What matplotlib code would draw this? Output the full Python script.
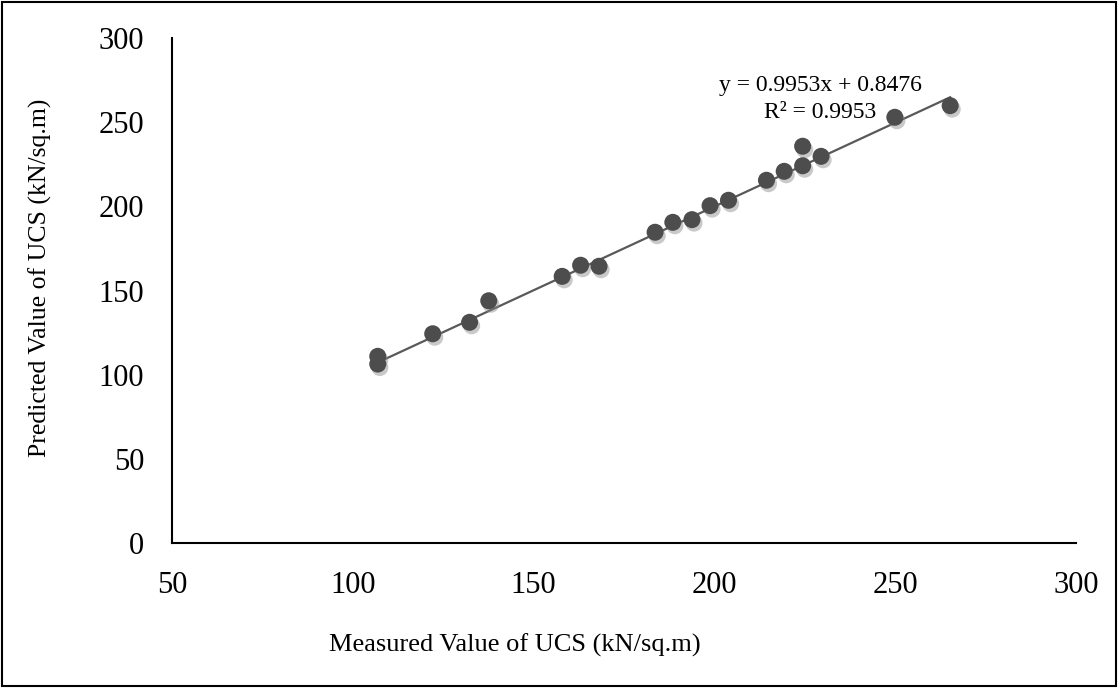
import matplotlib.pyplot as plt
import matplotlib.patheffects as pe
import numpy as np

measured = [106.9, 106.9, 122.1, 132.3, 137.6, 157.9, 163.0, 168.1, 183.6, 188.5,
            193.8, 198.8, 203.9, 214.4, 219.3, 224.4, 224.4, 229.5, 249.9, 265.2]
predicted = [110.9, 106.3, 124.3, 131.1, 143.9, 158.4, 165.0, 164.4, 184.6, 190.5,
             192.1, 200.4, 203.6, 215.5, 220.8, 224.1, 235.7, 229.7, 252.9, 259.8]
slope = 0.9953
intercept = 0.8476
r2 = 0.9953

plt.rcParams['font.family'] = ['Liberation Serif', 'DejaVu Serif']

W, H = 1118, 688
fig = plt.figure(figsize=(W / 100, H / 100), dpi=100)
ax = fig.add_axes([172 / W, 1 - 543 / H, (1076 - 172) / W, (543 - 38) / H])

xs = np.array([min(measured), max(measured)])
ax.plot(xs, slope * xs + intercept, color="#595959", lw=1.6, zorder=2)

sc = ax.scatter(measured, predicted, s=150, color="#4d4d4d", zorder=3, linewidths=0)
sc.set_path_effects([pe.SimplePatchShadow(offset=(1.5, -2.5), shadow_rgbFace="#888888", alpha=0.45),
                     pe.Normal()])

ax.set_xlim(50, 300)
ax.set_ylim(0, 300)
ax.set_xticks([50, 100, 150, 200, 250, 300])
ax.set_yticks([0, 50, 100, 150, 200, 250, 300])
ax.tick_params(length=0, labelsize=22, pad=20)
for s in ["top", "right"]:
    ax.spines[s].set_visible(False)
for s in ["left", "bottom"]:
    ax.spines[s].set_linewidth(1.5)

fig.text(820 / W, 1 - 85 / H, "y = %.4fx + %.4f" % (slope, intercept), fontsize=17,
         ha="center", va="center")
fig.text(820 / W, 1 - 112 / H, "R² = %.4f" % r2, fontsize=17,
         ha="center", va="center")

fig.text(515 / W, 1 - 645 / H, "Measured Value of UCS (kN/sq.m)", fontsize=19,
         ha="center", va="center")
fig.text(40 / W, 1 - 278 / H, "Predicted Value of UCS (kN/sq.m)", fontsize=18.5,
         ha="center", va="center", rotation=90)

fig.patches.append(plt.Rectangle((0.002, 0.003), 0.996, 0.994, transform=fig.transFigure,
                                 fill=False, edgecolor="black", lw=1.5))

fig.savefig("out.png", dpi=100)
